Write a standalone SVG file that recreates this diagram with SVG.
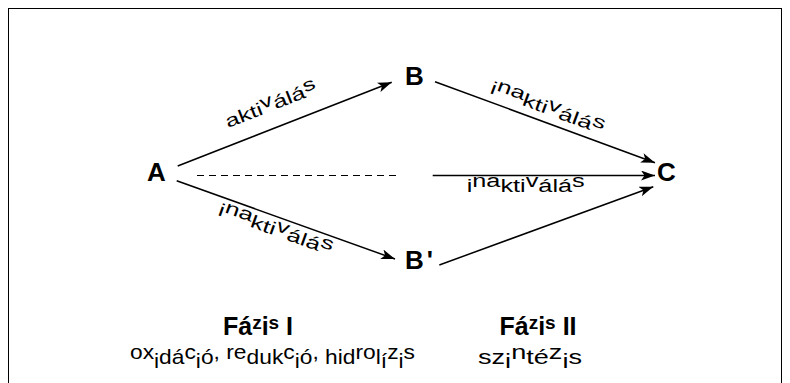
<svg xmlns="http://www.w3.org/2000/svg" width="790" height="383" viewBox="0 0 790 383">
<style>
text{font-family:"Liberation Sans",Arial,sans-serif;fill:#000}
.node{font-size:26px;font-weight:bold}
.lbl{font-size:18px}
.hd{font-size:25px;font-weight:bold}
.sub{font-size:21px}
.hi{baseline-shift:5px}
.lo{baseline-shift:-4px}
.sup{font-size:19px;baseline-shift:6px}
.edge{stroke:#000;stroke-width:1.5;fill:none}
.dash{stroke:#000;stroke-width:1.2;stroke-dasharray:7 5;fill:none}
</style>
<defs>
<marker id="ah" markerUnits="userSpaceOnUse" markerWidth="14" markerHeight="10" refX="14" refY="5" orient="auto">
<path d="M0,0 L14,5 L0,10 L3.5,5 z" fill="#000"/>
</marker>
</defs>
<rect width="790" height="383" fill="#fff"/>
<rect x="8.5" y="8.5" width="773" height="390" fill="none" stroke="#000" stroke-width="1"/>

<g id="connectors">
<line class="edge" x1="177.7" y1="166" x2="391.7" y2="82.3" marker-end="url(#ah)"/>
<line class="edge" x1="435" y1="81.7" x2="655" y2="162.7" marker-end="url(#ah)"/>
<line class="edge" x1="176.7" y1="180.7" x2="395" y2="259" marker-end="url(#ah)"/>
<line class="edge" x1="439.3" y1="265" x2="653.3" y2="186.7" marker-end="url(#ah)"/>
<line class="dash" x1="197" y1="175.5" x2="398" y2="175.5"/>
<line class="edge" x1="432.7" y1="175.5" x2="655" y2="175.5" marker-end="url(#ah)"/>
<text class="lbl" transform="translate(228,128) rotate(-21.36)" textLength="97" lengthAdjust="spacingAndGlyphs">akti<tspan class="hi">v</tspan>álá<tspan class="hi">s</tspan></text>
<text class="lbl" transform="translate(489,93) rotate(20.21)" textLength="120" lengthAdjust="spacingAndGlyphs">i<tspan class="hi">na</tspan>kti<tspan class="hi">v</tspan>álá<tspan class="hi">s</tspan></text>
<text class="lbl" transform="translate(217,215) rotate(19.73)" textLength="120" lengthAdjust="spacingAndGlyphs">i<tspan class="hi">na</tspan>kti<tspan class="hi">v</tspan>álá<tspan class="hi">s</tspan></text>
<text class="lbl" x="466.7" y="192" textLength="118" lengthAdjust="spacingAndGlyphs">i<tspan class="hi">na</tspan>kti<tspan class="hi">v</tspan>álá<tspan class="hi">s</tspan></text>
</g>

<g id="node-A"><text class="node" x="147" y="181">A</text></g>
<g id="node-B"><text class="node" x="405" y="85">B</text></g>
<g id="node-B-prime"><text class="node" x="405" y="268.5">B<tspan dx="3">'</tspan></text></g>
<g id="node-C"><text class="node" x="657" y="181">C</text></g>

<g id="phase-1">
<text class="hd" x="258" y="335" text-anchor="middle">Fá<tspan class="sup">z</tspan>i<tspan class="sup">s</tspan> I</text>
<text class="sub" x="130" y="364" textLength="285" lengthAdjust="spacingAndGlyphs"><tspan class="hi">ox</tspan><tspan class="lo">i</tspan>dá<tspan class="hi">c</tspan><tspan class="lo">i</tspan>ó<tspan class="hi">,</tspan> <tspan class="hi">re</tspan>duk<tspan class="hi">c</tspan><tspan class="lo">i</tspan>ó<tspan class="hi">,</tspan> hid<tspan class="hi">ro</tspan>l<tspan class="lo">í</tspan><tspan class="hi">z</tspan><tspan class="lo">i</tspan><tspan class="hi">s</tspan></text>
</g>
<g id="phase-2">
<text class="hd" x="538" y="335" text-anchor="middle">Fá<tspan class="sup">z</tspan>i<tspan class="sup">s</tspan> II</text>
<text class="sub" x="478" y="364" textLength="104" lengthAdjust="spacingAndGlyphs">sz<tspan class="lo">i</tspan><tspan class="hi">n</tspan>té<tspan class="hi">z</tspan><tspan class="lo">i</tspan>s</text>
</g>
</svg>
